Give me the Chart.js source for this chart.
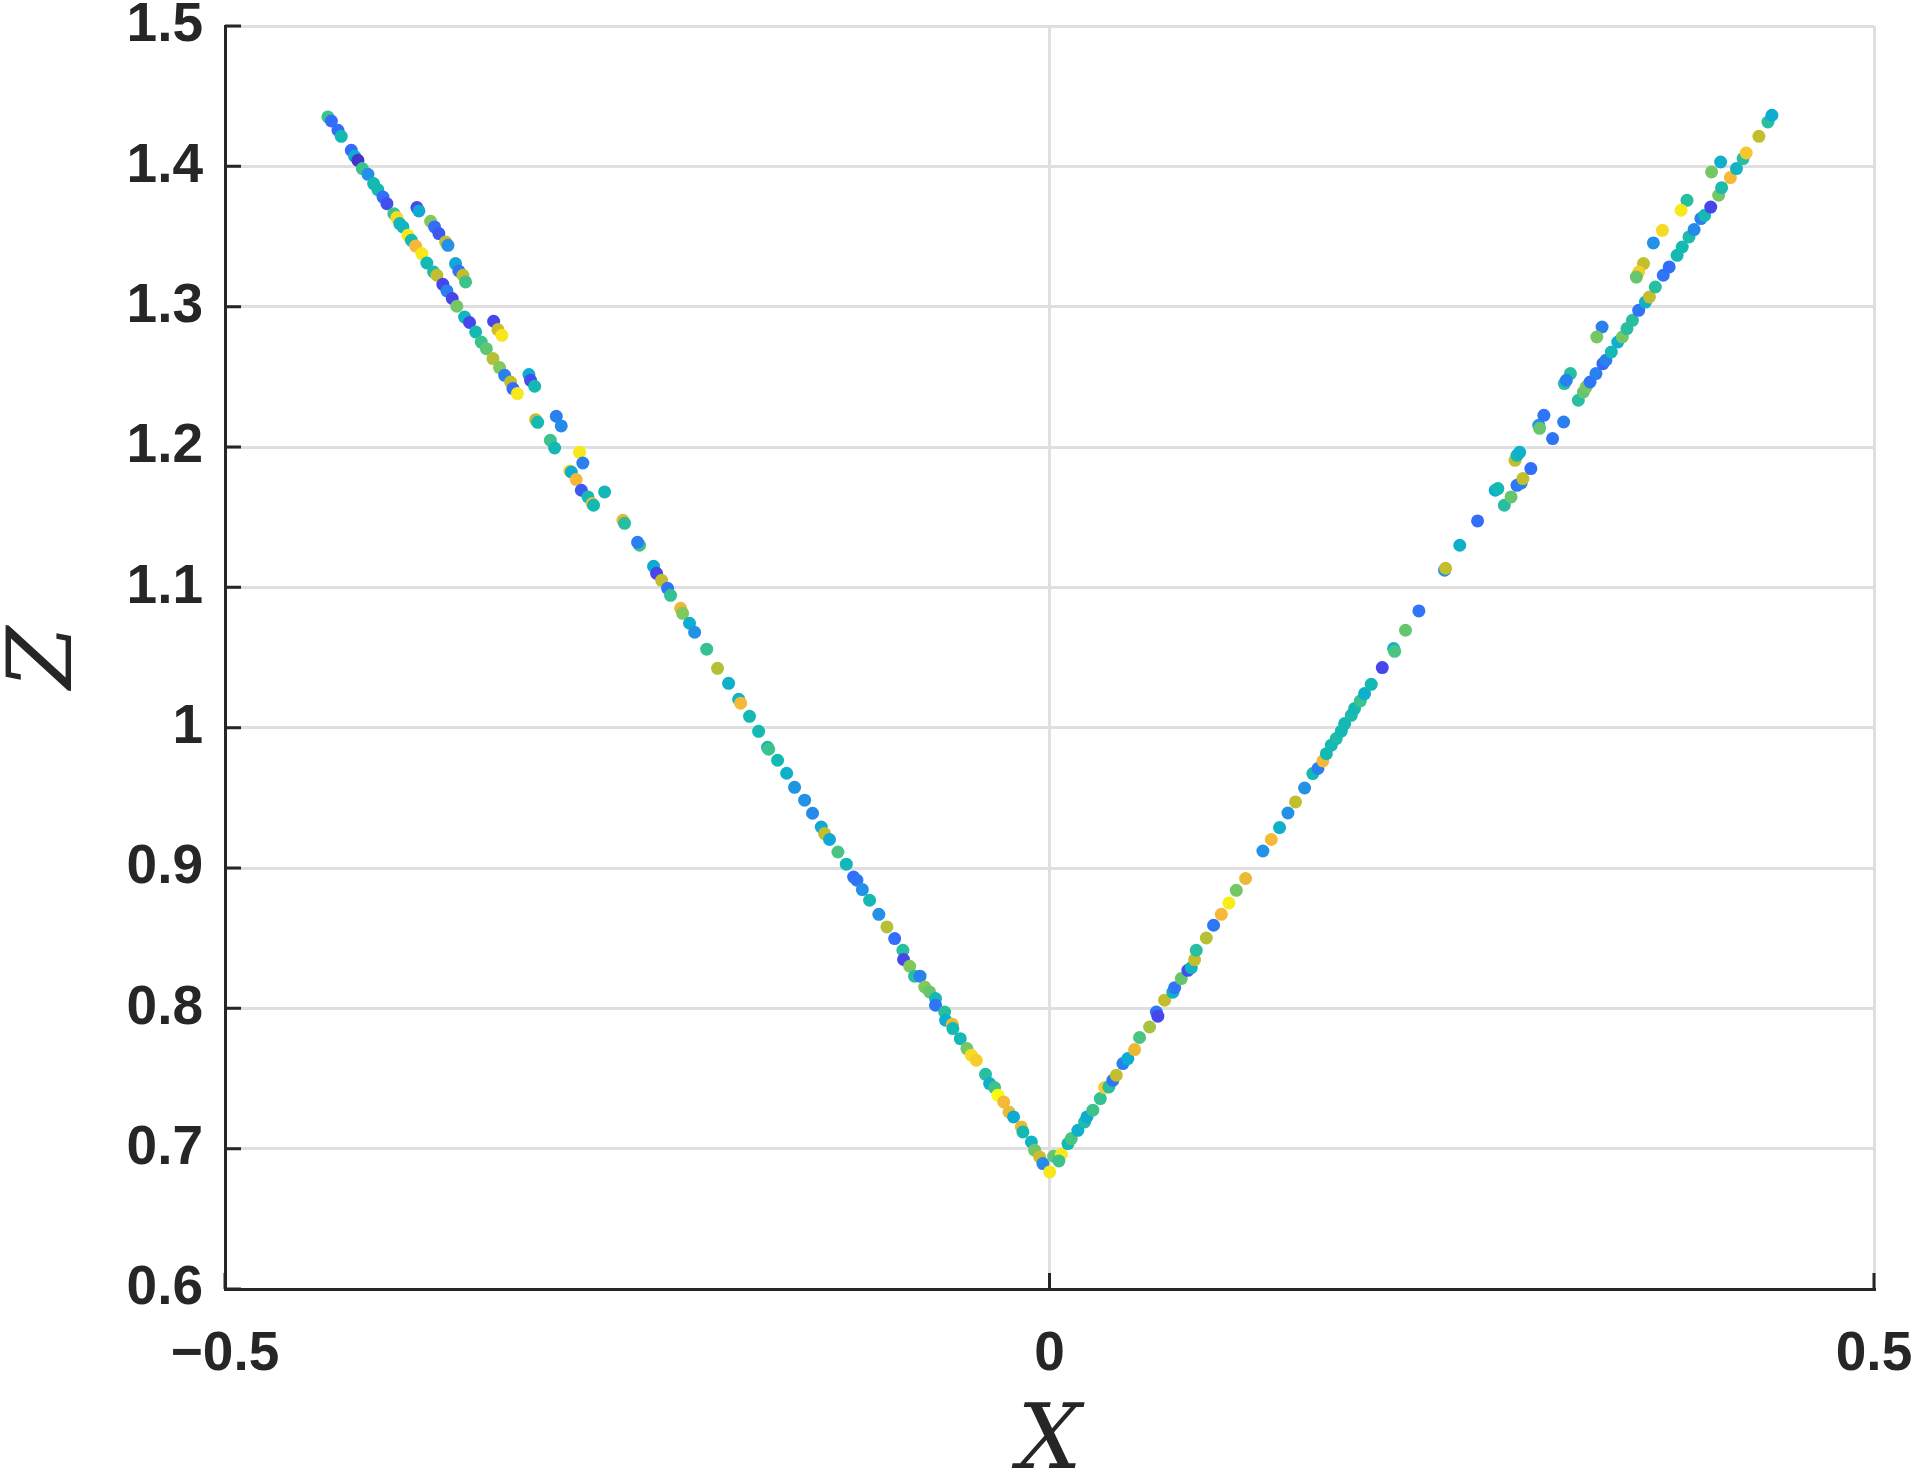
<!DOCTYPE html>
<html>
<head>
<meta charset="utf-8">
<script src="https://cdn.jsdelivr.net/npm/chart.js@4.4.0/dist/chart.umd.min.js"></script>
<style>
  html, body { margin: 0; padding: 0; background: #fff; }
  #wrap { width: 1921px; height: 1478px; position: relative; }
</style>
</head>
<body>
<div id="wrap"><canvas id="chart"></canvas></div>
<script>
// left branch (x < 0): main strand, offset strand, lower main strand
const leftX = [
  -0.4376, -0.4355, -0.4315, -0.4295, -0.4234, -0.4214, -0.4194, -0.4167, -0.4133, -0.4099,
  -0.4073, -0.4042, -0.4018, -0.3976, -0.3958, -0.3941, -0.3921, -0.3891, -0.3870, -0.3844,
  -0.3806, -0.3776, -0.3735, -0.3715, -0.3679, -0.3654, -0.3622, -0.3594, -0.3547, -0.3517,
  -0.3480, -0.3446, -0.3415, -0.3375, -0.3335, -0.3304, -0.3268, -0.3254, -0.3227,
  -0.3836, -0.3824, -0.3753, -0.3729, -0.3703, -0.3662, -0.3648, -0.3602, -0.3582, -0.3557,
  -0.3541, -0.3371, -0.3345, -0.3321, -0.3157, -0.3147, -0.3122, -0.2991, -0.2961, -0.2850,
  -0.2830, -0.2698,
  -0.3116, -0.3104, -0.3027, -0.3001, -0.2910, -0.2900, -0.2870, -0.2839, -0.2799, -0.2773,
  -0.2765, -0.2587, -0.2577, -0.2486, -0.2498, -0.2401, -0.2383, -0.2352, -0.2316, -0.2298,
  -0.2237, -0.2225, -0.2183, -0.2152, -0.2079, -0.2013, -0.1946, -0.1885, -0.1873, -0.1819,
  -0.1764, -0.1710, -0.1703, -0.1649, -0.1594, -0.1546, -0.1485, -0.1437, -0.1384, -0.1364,
  -0.1334, -0.1283, -0.1232, -0.1188, -0.1168, -0.1135, -0.1091, -0.1035, -0.0986, -0.0939,
  -0.0889, -0.0885, -0.0848, -0.0818, -0.0785, -0.0757, -0.0727, -0.0691, -0.0691, -0.0636,
  -0.0630, -0.0589, -0.0586, -0.0541, -0.0501, -0.0474, -0.0444, -0.0388, -0.0363, -0.0333,
  -0.0313, -0.0278, -0.0246, -0.0218, -0.0171, -0.0161, -0.0110, -0.0090, -0.0060, -0.0040,
  0.0001
];
const leftZ = [
  1.4352, 1.4323, 1.4257, 1.4214, 1.4114, 1.4072, 1.4043, 1.3984, 1.3943, 1.3877,
  1.3834, 1.3781, 1.3734, 1.3663, 1.3635, 1.3592, 1.3568, 1.3509, 1.3473, 1.3432,
  1.3378, 1.3311, 1.3247, 1.3224, 1.3159, 1.3112, 1.3058, 1.3003, 1.2926, 1.2887,
  1.2820, 1.2748, 1.2701, 1.2630, 1.2566, 1.2511, 1.2463, 1.2416, 1.2381,
  1.3706, 1.3682, 1.3608, 1.3568, 1.3521, 1.3461, 1.3437, 1.3307, 1.3254, 1.3224,
  1.3176, 1.2896, 1.2837, 1.2796, 1.2516, 1.2475, 1.2433, 1.2219, 1.2150, 1.1962,
  1.1886, 1.1680,
  1.2195, 1.2176, 1.2048, 1.1993, 1.1829, 1.1822, 1.1768, 1.1692, 1.1644, 1.1597,
  1.1585, 1.1478, 1.1456, 1.1300, 1.1321, 1.1150, 1.1100, 1.1050, 1.0993, 1.0943,
  1.0851, 1.0815, 1.0744, 1.0680, 1.0559, 1.0423, 1.0316, 1.0202, 1.0174, 1.0081,
  0.9974, 0.9860, 0.9846, 0.9768, 0.9675, 0.9575, 0.9483, 0.9390, 0.9292, 0.9245,
  0.9203, 0.9114, 0.9027, 0.8936, 0.8913, 0.8846, 0.8770, 0.8670, 0.8580, 0.8497,
  0.8414, 0.8348, 0.8300, 0.8229, 0.8229, 0.8152, 0.8117, 0.8070, 0.8022, 0.7974,
  0.7915, 0.7886, 0.7856, 0.7784, 0.7713, 0.7666, 0.7630, 0.7530, 0.7464, 0.7435,
  0.7381, 0.7333, 0.7262, 0.7226, 0.7155, 0.7119, 0.7048, 0.6989, 0.6941, 0.6894,
  0.6834
];
const leftC = [
  .6, .2, .2, .5, .2, .4, .05, .6, .3, .5,
  .5, .2, .12, .6, .95, .5, .45, .97, .5, .9,
  .97, .5, .52, .8, .1, .25, .1, .68, .45, .1,
  .5, .6, .65, .78, .7, .25, .8, .2, .97,
  .1, .38, .7, .2, .15, .8, .3, .38, .22, .8,
  .6, .1, .82, .97, .4, .12, .5, .25, .28, .97,
  .25, .48,
  .8, .5, .6, .5, .95, .4, .9, .15, .5, .9,
  .5, .88, .55, .6, .25, .4, .1, .8, .22, .58,
  .88, .7, .4, .3, .58, .78, .42, .45, .9, .5,
  .5, .48, .6, .5, .42, .32, .3, .28, .38, .8,
  .38, .62, .48, .2, .22, .3, .5, .3, .78, .2,
  .55, .1, .7, .55, .25, .7, .66, .5, .22, .55,
  .4, .88, .5, .5, .68, .95, .93, .55, .42, .6,
  1.0, .9, .88, .4, .88, .5, .45, .68, .82, .28,
  .97
];

// right branch (x > 0)
const rightX = [
  0.0025, 0.0072, 0.0057, 0.0112, 0.0132, 0.0172, 0.0213, 0.0227, 0.0263, 0.0308,
  0.0334, 0.0360, 0.0384, 0.0405, 0.0445, 0.0475, 0.0516, 0.0546, 0.0607, 0.0648,
  0.0657, 0.0698, 0.0748, 0.0759, 0.0799, 0.0839, 0.0860, 0.0880, 0.0890, 0.0951,
  0.0995, 0.1042, 0.1088, 0.1133, 0.1189, 0.1294, 0.1345, 0.1395, 0.1446, 0.1492,
  0.1547, 0.1597, 0.1628, 0.1658, 0.1679, 0.1709, 0.1739, 0.1770, 0.1790, 0.1830,
  0.1850, 0.1885, 0.1911, 0.1951, 0.2018, 0.2087, 0.2093, 0.2159, 0.2240, 0.2396,
  0.2402, 0.2488, 0.2596, 0.2703, 0.2719, 0.2758, 0.2799, 0.2835, 0.2861, 0.2871,
  0.2919, 0.2823, 0.2835, 0.2851, 0.3051, 0.3118, 0.2967, 0.2998, 0.2972, 0.3207,
  0.3238, 0.3255, 0.3278, 0.3314, 0.3356, 0.3374, 0.3407, 0.3446, 0.3474, 0.3502,
  0.3535, 0.3573, 0.3614, 0.3638, 0.3674, 0.3722, 0.3758, 0.3806, 0.3837, 0.3878,
  0.3909, 0.3950, 0.3973, 0.4010, 0.4058, 0.4076, 0.4129, 0.4166, 0.4206, 0.4225,
  0.4302, 0.4357, 0.4381, 0.4070, 0.4015, 0.3866, 0.3830, 0.3717, 0.3662, 0.3602,
  0.3573, 0.3559, 0.3351, 0.3319, 0.3159, 0.3122, 0.3134
];
const rightZ = [
  0.6946, 0.6960, 0.6912, 0.7036, 0.7072, 0.7131, 0.7190, 0.7226, 0.7274, 0.7357,
  0.7435, 0.7440, 0.7487, 0.7523, 0.7606, 0.7642, 0.7706, 0.7792, 0.7867, 0.7974,
  0.7944, 0.8058, 0.8115, 0.8147, 0.8212, 0.8271, 0.8290, 0.8347, 0.8414, 0.8501,
  0.8592, 0.8670, 0.8751, 0.8841, 0.8925, 0.9121, 0.9203, 0.9288, 0.9392, 0.9471,
  0.9570, 0.9673, 0.9709, 0.9763, 0.9815, 0.9875, 0.9922, 0.9976, 1.0029, 1.0088,
  1.0136, 1.0190, 1.0243, 1.0309, 1.0428, 1.0564, 1.0544, 1.0694, 1.0832, 1.1122,
  1.1136, 1.1300, 1.1473, 1.1692, 1.1704, 1.1585, 1.1644, 1.1727, 1.1744, 1.1775,
  1.1846, 1.1905, 1.1941, 1.1962, 1.2060, 1.2178, 1.2155, 1.2226, 1.2133, 1.2333,
  1.2392, 1.2428, 1.2463, 1.2523, 1.2594, 1.2618, 1.2677, 1.2748, 1.2784, 1.2844,
  1.2903, 1.2974, 1.3033, 1.3069, 1.3140, 1.3224, 1.3283, 1.3366, 1.3425, 1.3497,
  1.3549, 1.3628, 1.3651, 1.3710, 1.3794, 1.3848, 1.3920, 1.3984, 1.4055, 1.4095,
  1.4214, 1.4316, 1.4364, 1.4031, 1.3960, 1.3758, 1.3687, 1.3544, 1.3454, 1.3307,
  1.3247, 1.3211, 1.2855, 1.2784, 1.2523, 1.2452, 1.2475
];
const rightC = [
  .65, .97, .6, .5, .62, .42, .52, .4, .6, .58,
  .93, .55, .22, .8, .25, .4, .88, .62, .75, .22,
  .1, .8, .42, .22, .66, .12, .45, .8, .55, .78,
  .22, .9, .98, .68, .88, .3, .9, .42, .3, .8,
  .3, .5, .25, .9, .5, .5, .52, .5, .5, .52,
  .5, .6, .42, .5, .1, .42, .62, .66, .22, .3,
  .8, .42, .2, .4, .5, .55, .66, .22, .25, .8,
  .2, .8, .5, .42, .22, .25, .3, .22, .66, .55,
  .66, .68, .22, .25, .18, .25, .5, .42, .68, .55,
  .55, .22, .42, .8, .55, .22, .2, .5, .5, .52,
  .28, .25, .5, .1, .68, .52, .9, .45, .55, .92,
  .8, .55, .4, .42, .68, .55, .97, .95, .3, .8,
  .93, .66, .25, .68, .55, .55, .25
];

const xTicks = [-0.5, 0, 0.5];
const zTicks = [0.6, 0.7, 0.8, 0.9, 1.0, 1.1, 1.2, 1.3, 1.4, 1.5];

// colormap anchors (parula-like)
const PARULA = [
  [62, 38, 168], [70, 70, 235], [50, 110, 250], [35, 145, 230], [15, 172, 210],
  [20, 185, 180], [60, 195, 140], [130, 200, 90], [195, 190, 45], [245, 185, 55],
  [249, 251, 14]
];

function parula(t) {
  t = Math.max(0, Math.min(1, t));
  const f = t * (PARULA.length - 1);
  const i = Math.min(Math.floor(f), PARULA.length - 2);
  const k = f - i;
  const a = PARULA[i], b = PARULA[i + 1];
  const c = a.map((v, j) => Math.round(v + (b[j] - v) * k));
  return `rgb(${c[0]},${c[1]},${c[2]})`;
}

const pts = [];
const cols = [];
leftX.forEach((x, i) => { pts.push({ x, y: leftZ[i] }); cols.push(parula(leftC[i] ?? 0.5)); });
rightX.forEach((x, i) => { pts.push({ x, y: rightZ[i] }); cols.push(parula(rightC[i] ?? 0.5)); });

const AXIS = '#262626';
const GRID = '#dfdfdf';

// MATLAB-style ticks pointing into the plot
const innerTicks = {
  id: 'innerTicks',
  beforeDatasetsDraw(chart) {
    const { ctx, chartArea, scales: { x, y } } = chart;
    ctx.save();
    ctx.strokeStyle = AXIS;
    ctx.lineWidth = 3;
    ctx.beginPath();
    zTicks.forEach(v => {
      const py = y.getPixelForValue(v);
      ctx.moveTo(chartArea.left, py);
      ctx.lineTo(chartArea.left + 16, py);
    });
    xTicks.forEach(v => {
      const px = x.getPixelForValue(v);
      ctx.moveTo(px, chartArea.bottom);
      ctx.lineTo(px, chartArea.bottom - 16);
    });
    ctx.stroke();
    ctx.restore();
  }
};

const tickFont = { family: '"Liberation Sans", Arial, sans-serif', size: 55, weight: 'bold', lineHeight: 0.9 };
const titleFont = { family: '"DejaVu Serif", "Liberation Serif", serif', size: 90, style: 'italic', lineHeight: 0.75 };

new Chart(document.getElementById('chart').getContext('2d'), {
  type: 'scatter',
  data: {
    datasets: [{
      data: pts,
      backgroundColor: cols,
      borderWidth: 0,
      pointRadius: 6.5,
      pointHoverRadius: 6.5
    }]
  },
  options: {
    responsive: true,
    maintainAspectRatio: false,
    animation: false,
    layout: { padding: { top: 26, right: 47, left: 0, bottom: 0 } },
    plugins: { legend: { display: false }, tooltip: { enabled: false } },
    scales: {
      x: {
        type: 'linear',
        min: -0.5, max: 0.5,
        afterFit: s => { s.height = 189; s.paddingLeft = 0; s.paddingRight = 0; },
        afterBuildTicks: s => { s.ticks = xTicks.map(v => ({ value: v })); },
        ticks: {
          color: AXIS,
          font: tickFont,
          padding: 41,
          maxRotation: 0,
          autoSkip: false,
          callback: v => v === 0 ? '0' : (v < 0 ? '\u2212' : '') + Math.abs(v)
        },
        grid: { color: GRID, lineWidth: 3, drawTicks: false },
        border: { display: true, color: AXIS, width: 3 },
        title: { display: true, text: 'X', color: AXIS, font: titleFont, padding: { top: 0, bottom: 0 } }
      },
      y: {
        type: 'linear',
        min: 0.6, max: 1.5,
        afterFit: s => { s.width = 225; s.paddingTop = 0; s.paddingBottom = 0; },
        afterBuildTicks: s => { s.ticks = zTicks.map(v => ({ value: v })); },
        ticks: {
          color: AXIS,
          font: tickFont,
          padding: 22,
          autoSkip: false,
          callback: v => String(Number(v.toFixed(1)))
        },
        grid: { color: GRID, lineWidth: 3, drawTicks: false },
        border: { display: true, color: AXIS, width: 3 },
        title: { display: true, text: 'Z', color: AXIS, font: titleFont, padding: { top: 14, bottom: 0 } }
      }
    }
  },
  plugins: [innerTicks]
});
</script>
</body>
</html>
